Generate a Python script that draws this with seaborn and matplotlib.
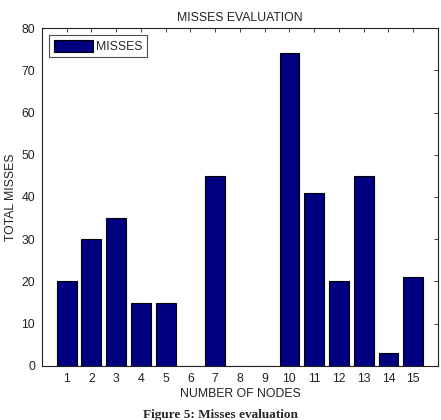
import matplotlib
matplotlib.use("Agg")
import matplotlib.pyplot as plt
import seaborn as sns
import pandas as pd

nodes = list(range(1, 16))
misses = [20, 30, 35, 15, 15, 0, 45, 0, 0, 74, 41, 20, 45, 3, 21]
series_name = "MISSES"

sns.set_style("white")
plt.rcParams['font.family'] = ['Liberation Sans', 'DejaVu Sans']

df = pd.DataFrame({"nodes": nodes, "misses": misses})

fig = plt.figure(figsize=(4.41, 4.20), dpi=100)
ax = fig.add_axes([0.095, 0.129, 0.898, 0.804])

sns.barplot(data=df, x="nodes", y="misses", native_scale=True, width=0.8,
            color="#000080", saturation=1, edgecolor="black", linewidth=0.8,
            label=series_name, ax=ax)

ax.set_xlim(0, 16)
ax.set_ylim(0, 80)
ax.set_xticks(nodes)
ax.set_yticks(range(0, 81, 10))
ax.tick_params(direction="in", top=True, right=True, length=3, labelsize=8.8,
               colors="#222222", width=0.6, pad=5)
for s in ax.spines.values():
    s.set_color("#222222")
    s.set_linewidth(0.8)

ax.set_title("MISSES EVALUATION", fontsize=8.8, color="#222222", pad=5)
ax.set_xlabel("NUMBER OF NODES", fontsize=8.8, color="#222222", labelpad=2)
ax.set_ylabel("TOTAL MISSES", fontsize=8.8, color="#222222", labelpad=3)

leg = ax.legend(loc="upper left", fontsize=8.8, frameon=True, fancybox=False,
                handlelength=3.2, handleheight=1.2, borderpad=0.35,
                borderaxespad=0.6, handletextpad=0.3)
leg.get_frame().set_edgecolor("#222222")
leg.get_frame().set_linewidth(0.8)

fig.text(0.5, 0.012, "Figure 5: Misses evaluation", ha="center", va="center",
         fontsize=9.5, fontweight="bold", family=["Liberation Serif", "DejaVu Serif"])

fig.savefig("out.png", dpi=100)
